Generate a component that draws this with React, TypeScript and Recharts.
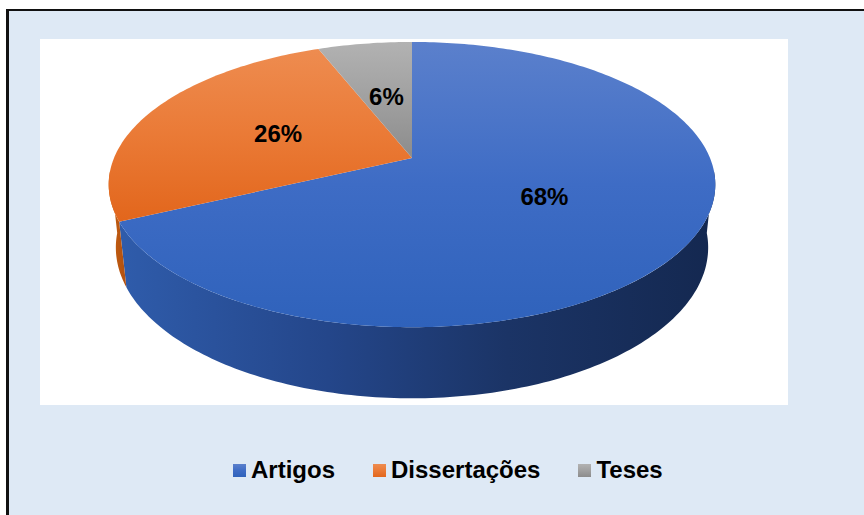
import { PieChart, Pie, Legend } from 'recharts';

const categories = ['Artigos', 'Dissertações', 'Teses'];
const shares = [68, 26, 6];
const topColors = [
  ['#5b80cc', '#3e6cc5', '#2f62bb'],
  ['#ee8c50', '#ea7a36', '#e2661c'],
  ['#b2b2b2', '#a0a0a0', '#8c8c8c'],
];
const sideColors = [
  ['#2f5cab', '#24468a', '#1b3466', '#142850'],
  ['#c8620f', '#c05b10', '#b85510', '#b05010'],
  ['#8a8a8a', '#7f7f7f', '#767676', '#6f6f6f'],
];

const data = categories.map((name, i) => ({ name, value: shares[i], fill: `url(#top-${i})` }));

// simple perspective projection of a tilted disk
const SIN_T = 0.462;
const COS_T = 0.887;
const PERSP = 0.21;
const DEPTH = 0.24;

function project(cx: number, cy: number, s: number, angle: number, r: number, up: number) {
  const rad = (angle * Math.PI) / 180;
  const x = r * Math.cos(rad);
  const z = r * Math.sin(rad);
  const v = z * SIN_T + up * COS_T;
  const d = z * COS_T - up * SIN_T;
  const den = 1 + PERSP * d;
  return [cx + (s * x) / den, cy - (s * v) / den];
}

function arc(cx: number, cy: number, s: number, a0: number, a1: number, up: number) {
  const n = Math.max(2, Math.ceil(Math.abs(a1 - a0)) + 1);
  const pts: number[][] = [];
  for (let k = 0; k < n; k++) {
    pts.push(project(cx, cy, s, a0 + ((a1 - a0) * k) / (n - 1), 1, up));
  }
  return pts;
}

const toPath = (pts: number[][]) => pts.map((p, k) => `${k ? 'L' : 'M'}${p[0].toFixed(2)},${p[1].toFixed(2)}`).join('') + 'Z';

function Slice3D(props: any) {
  const { cx, cy, outerRadius, startAngle, endAngle } = props;
  const name = props.name ?? props.payload?.name;
  const i = Math.max(0, categories.indexOf(name));
  const lo = Math.max(Math.min(startAngle, endAngle), -175);
  const hi = Math.min(Math.max(startAngle, endAngle), -5);
  const top = [[cx, cy], ...arc(cx, cy, outerRadius, startAngle, endAngle, 0)];
  let wall = null;
  if (hi > lo) {
    const pts = [...arc(cx, cy, outerRadius, lo, hi, 0), ...arc(cx, cy, outerRadius, hi, lo, -DEPTH)];
    wall = <path d={toPath(pts)} fill={`url(#side-${i})`} stroke="none" />;
  }
  return (
    <g>
      {wall}
      <path d={toPath(top)} fill={`url(#top-${i})`} stroke="none" />
    </g>
  );
}

function renderLabel(props: any) {
  const { cx, cy, outerRadius, midAngle, percent } = props;
  const [x, y] = project(cx, cy, outerRadius, midAngle, 0.5, 0);
  return (
    <text
      x={x}
      y={y}
      textAnchor="middle"
      dominantBaseline="central"
      fontSize={24}
      fontWeight="bold"
      fontFamily="'Liberation Sans', Arial, sans-serif"
      fill="#000"
    >
      {`${Math.round(percent * 100)}%`}
    </text>
  );
}

function renderLegend(props: any) {
  const items = props.payload || [];
  return (
    <div style={{ display: 'flex', alignItems: 'center', height: 28 }}>
      {items.map((entry: any, k: number) => (
        <div
          key={entry.value}
          style={{ display: 'flex', alignItems: 'center', marginRight: k < items.length - 1 ? 38 : 0 }}
        >
          <svg width={13} height={13} style={{ marginRight: 5, display: 'block' }}>
            <rect width={13} height={13} fill={`url(#top-${categories.indexOf(entry.value)})`} />
          </svg>
          <span
            style={{
              fontFamily: "'Liberation Sans', Arial, sans-serif",
              fontWeight: 'bold',
              fontSize: 24,
              lineHeight: '28px',
              color: '#000',
            }}
          >
            {entry.value}
          </span>
        </div>
      ))}
    </div>
  );
}

export default function App() {
  return (
    <div style={{ position: 'absolute', left: 0, top: 0, width: 864, height: 515, overflow: 'hidden' }}>
      <div
        style={{
          position: 'absolute',
          left: 6,
          top: 9,
          width: 900,
          height: 600,
          borderLeft: '3px solid #111',
          borderTop: '2px solid #111',
          background: '#dee9f5',
        }}
      />
      <div style={{ position: 'absolute', left: 40, top: 39, width: 748, height: 366, background: '#fff' }} />
      <div style={{ position: 'absolute', left: 0, top: 0 }}>
        <PieChart width={864} height={515} margin={{ top: 0, right: 0, bottom: 0, left: 0 }}>
          <defs>
            {topColors.map((c, i) => (
              <linearGradient key={`t${i}`} id={`top-${i}`} x1="0" y1="0" x2="0" y2="1">
                <stop offset="0%" stopColor={c[0]} />
                <stop offset="50%" stopColor={c[1]} />
                <stop offset="100%" stopColor={c[2]} />
              </linearGradient>
            ))}
            {sideColors.map((c, i) => (
              <linearGradient key={`s${i}`} id={`side-${i}`} x1="0" y1="0" x2="1" y2="0">
                <stop offset="0%" stopColor={c[0]} />
                <stop offset="35%" stopColor={c[1]} />
                <stop offset="65%" stopColor={c[2]} />
                <stop offset="100%" stopColor={c[3]} />
              </linearGradient>
            ))}
          </defs>
          <Pie
            data={data}
            dataKey="value"
            nameKey="name"
            cx={412}
            cy={158}
            outerRadius={298}
            startAngle={90}
            endAngle={-270}
            stroke="none"
            shape={Slice3D}
            inactiveShape={Slice3D}
            activeShape={Slice3D}
            label={renderLabel}
            labelLine={false}
            isAnimationActive={false}
          />
          <Legend
            content={renderLegend}
            verticalAlign="bottom"
            wrapperStyle={{ position: 'absolute', left: 233, top: 456, width: 'auto', height: 28, bottom: 'auto' }}
          />
        </PieChart>
      </div>
    </div>
  );
}
